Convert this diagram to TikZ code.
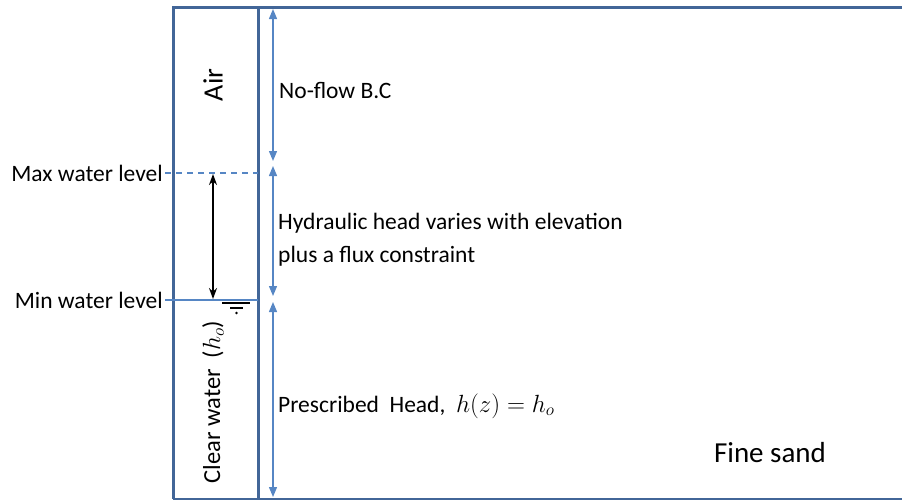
\documentclass[tikz,border=0pt]{standalone}
\usepackage{fontspec}
\setmainfont{Carlito}
\usepackage{tikz}
\usetikzlibrary{arrows.meta, positioning, calc}

\definecolor{wallblue}{RGB}{66,102,152}
\definecolor{dimblue}{RGB}{86,134,196}

\begin{document}
\begin{tikzpicture}[
    x=1pt, y=-1pt,
    wall/.style={draw=wallblue, line width=3pt},
    level/.style={draw=dimblue, line width=1.2pt},
    dimarrow/.style={{Triangle[length=10pt, width=8pt]}-{Triangle[length=10pt, width=8pt]}, draw=dimblue, line width=1.3pt},
    blackarrow/.style={{Stealth[length=11pt, width=8pt]}-{Stealth[length=11pt, width=8pt]}, line width=1.6pt},
    label/.style={font=\fontsize{23.5}{28}\selectfont, inner sep=0pt},
]
\useasboundingbox (0,0) rectangle (902,501);

% column and sand boundary
\coordinate (tl) at (173,7);
\coordinate (bl) at (173,499);
\coordinate (ti) at (258,7);
\coordinate (bi) at (258,499);
\coordinate (tr) at (902,7);
\coordinate (br) at (902,499);

\draw[wall] (bl) -- (tl) -- (tr);
\draw[wall] (ti) -- (bi);
\draw[draw=wallblue, line width=2pt] (bl) -- (br);

% water levels
\coordinate (maxl) at (165,173);
\coordinate (maxr) at (258,173);
\coordinate (minl) at (165,300);
\coordinate (minr) at (258,300);
\draw[level, dashed, dash pattern=on 6pt off 5pt] (maxl) -- (maxr);
\draw[level] (minl) -- (minr);

\node[label, anchor=east] (maxlab) at (163,173) {Max water level};
\node[label, anchor=east] (minlab) at (163,300) {Min water level};

% fluctuation range
\coordinate (fluctop) at (213,174);
\coordinate (flucbot) at (213,299);
\draw[blackarrow] (fluctop) -- (flucbot);

% water table symbol
\draw[line width=1.2pt] (222,303) -- (250,303);
\draw[line width=1.2pt] (230,308) -- (243,308);
\fill (236.5,313) circle (1.4pt);

% column contents
\node[label, rotate=90, font=\fontsize{28}{32}\selectfont] (air) at (213,85) {Air};
\node[label, rotate=90, font=\fontsize{24.5}{28}\selectfont] (water) at (213,402) {Clear water\ \ ($h_o$)};

% boundary conditions
\coordinate (a1) at (273,9);
\coordinate (a2) at (273,161);
\coordinate (b1) at (273,166);
\coordinate (b2) at (273,296);
\coordinate (c1) at (273,302);
\coordinate (c2) at (273,497);
\draw[dimarrow] (a1) -- (a2);
\draw[dimarrow] (b1) -- (b2);
\draw[dimarrow] (c1) -- (c2);

\node[label, anchor=west] (noflow) at (279,90) {No-flow B.C};
\node[label, anchor=west, align=left] (hydr) at (278,240) {Hydraulic head varies with elevation\\[5pt]plus a flux constraint};
\node[label, anchor=west] (presc) at (278,406) {Prescribed\ \ Head,\ \ $h(z)=h_o$};

\node[label, font=\fontsize{29}{34}\selectfont] (sand) at (770,453) {Fine sand};

\end{tikzpicture}
\end{document}
